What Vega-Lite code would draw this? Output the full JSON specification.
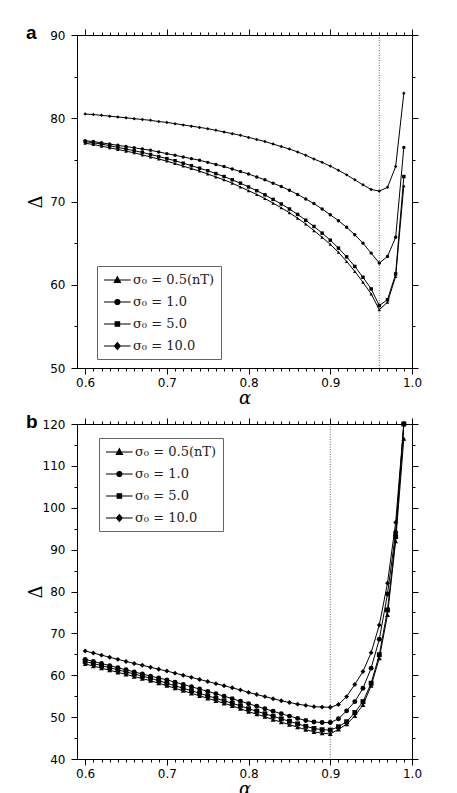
{
  "$schema": "https://vega.github.io/schema/vega-lite/v6.json",
  "background": "white",
  "padding": {"left": 25, "top": 23, "right": 5, "bottom": 0},
  "spacing": 4,
  "datasets": {
    "vl": [{"p": "a", "x": 0.96}, {"p": "b", "x": 0.9}],
    "pts": [
      {"p":"a","k":"10.0","x":0.60,"y":80.5},{"p":"a","k":"10.0","x":0.61,"y":80.45},{"p":"a","k":"10.0","x":0.62,"y":80.35},{"p":"a","k":"10.0","x":0.63,"y":80.25},{"p":"a","k":"10.0","x":0.64,"y":80.15},
      {"p":"a","k":"10.0","x":0.65,"y":80.05},{"p":"a","k":"10.0","x":0.66,"y":79.95},{"p":"a","k":"10.0","x":0.67,"y":79.85},{"p":"a","k":"10.0","x":0.68,"y":79.75},{"p":"a","k":"10.0","x":0.69,"y":79.6},
      {"p":"a","k":"10.0","x":0.70,"y":79.5},{"p":"a","k":"10.0","x":0.71,"y":79.35},{"p":"a","k":"10.0","x":0.72,"y":79.2},{"p":"a","k":"10.0","x":0.73,"y":79.05},{"p":"a","k":"10.0","x":0.74,"y":78.9},
      {"p":"a","k":"10.0","x":0.75,"y":78.75},{"p":"a","k":"10.0","x":0.76,"y":78.55},{"p":"a","k":"10.0","x":0.77,"y":78.35},{"p":"a","k":"10.0","x":0.78,"y":78.15},{"p":"a","k":"10.0","x":0.79,"y":77.95},
      {"p":"a","k":"10.0","x":0.80,"y":77.7},{"p":"a","k":"10.0","x":0.81,"y":77.45},{"p":"a","k":"10.0","x":0.82,"y":77.2},{"p":"a","k":"10.0","x":0.83,"y":76.9},{"p":"a","k":"10.0","x":0.84,"y":76.6},
      {"p":"a","k":"10.0","x":0.85,"y":76.3},{"p":"a","k":"10.0","x":0.86,"y":75.95},{"p":"a","k":"10.0","x":0.87,"y":75.55},{"p":"a","k":"10.0","x":0.88,"y":75.1},{"p":"a","k":"10.0","x":0.89,"y":74.7},
      {"p":"a","k":"10.0","x":0.90,"y":74.25},{"p":"a","k":"10.0","x":0.91,"y":73.75},{"p":"a","k":"10.0","x":0.92,"y":73.2},{"p":"a","k":"10.0","x":0.93,"y":72.6},{"p":"a","k":"10.0","x":0.94,"y":72.0},
      {"p":"a","k":"10.0","x":0.95,"y":71.45},{"p":"a","k":"10.0","x":0.96,"y":71.25},{"p":"a","k":"10.0","x":0.97,"y":71.7},{"p":"a","k":"10.0","x":0.98,"y":74.2},{"p":"a","k":"10.0","x":0.99,"y":83.0},

      {"p":"a","k":"1.0","x":0.60,"y":77.3},{"p":"a","k":"1.0","x":0.61,"y":77.2},{"p":"a","k":"1.0","x":0.62,"y":77.05},{"p":"a","k":"1.0","x":0.63,"y":76.9},{"p":"a","k":"1.0","x":0.64,"y":76.75},
      {"p":"a","k":"1.0","x":0.65,"y":76.6},{"p":"a","k":"1.0","x":0.66,"y":76.45},{"p":"a","k":"1.0","x":0.67,"y":76.3},{"p":"a","k":"1.0","x":0.68,"y":76.15},{"p":"a","k":"1.0","x":0.69,"y":75.95},
      {"p":"a","k":"1.0","x":0.70,"y":75.75},{"p":"a","k":"1.0","x":0.71,"y":75.55},{"p":"a","k":"1.0","x":0.72,"y":75.35},{"p":"a","k":"1.0","x":0.73,"y":75.15},{"p":"a","k":"1.0","x":0.74,"y":74.95},
      {"p":"a","k":"1.0","x":0.75,"y":74.7},{"p":"a","k":"1.0","x":0.76,"y":74.45},{"p":"a","k":"1.0","x":0.77,"y":74.2},{"p":"a","k":"1.0","x":0.78,"y":73.9},{"p":"a","k":"1.0","x":0.79,"y":73.6},
      {"p":"a","k":"1.0","x":0.80,"y":73.3},{"p":"a","k":"1.0","x":0.81,"y":72.95},{"p":"a","k":"1.0","x":0.82,"y":72.6},{"p":"a","k":"1.0","x":0.83,"y":72.2},{"p":"a","k":"1.0","x":0.84,"y":71.8},
      {"p":"a","k":"1.0","x":0.85,"y":71.35},{"p":"a","k":"1.0","x":0.86,"y":70.85},{"p":"a","k":"1.0","x":0.87,"y":70.3},{"p":"a","k":"1.0","x":0.88,"y":69.75},{"p":"a","k":"1.0","x":0.89,"y":69.1},
      {"p":"a","k":"1.0","x":0.90,"y":68.4},{"p":"a","k":"1.0","x":0.91,"y":67.7},{"p":"a","k":"1.0","x":0.92,"y":66.9},{"p":"a","k":"1.0","x":0.93,"y":66.0},{"p":"a","k":"1.0","x":0.94,"y":65.0},
      {"p":"a","k":"1.0","x":0.95,"y":63.8},{"p":"a","k":"1.0","x":0.96,"y":62.6},{"p":"a","k":"1.0","x":0.97,"y":63.4},{"p":"a","k":"1.0","x":0.98,"y":65.7},{"p":"a","k":"1.0","x":0.99,"y":76.5},

      {"p":"a","k":"5.0","x":0.60,"y":77.2},{"p":"a","k":"5.0","x":0.61,"y":77.05},{"p":"a","k":"5.0","x":0.62,"y":76.9},{"p":"a","k":"5.0","x":0.63,"y":76.7},{"p":"a","k":"5.0","x":0.64,"y":76.5},
      {"p":"a","k":"5.0","x":0.65,"y":76.3},{"p":"a","k":"5.0","x":0.66,"y":76.1},{"p":"a","k":"5.0","x":0.67,"y":75.9},{"p":"a","k":"5.0","x":0.68,"y":75.65},{"p":"a","k":"5.0","x":0.69,"y":75.4},
      {"p":"a","k":"5.0","x":0.70,"y":75.15},{"p":"a","k":"5.0","x":0.71,"y":74.9},{"p":"a","k":"5.0","x":0.72,"y":74.6},{"p":"a","k":"5.0","x":0.73,"y":74.3},{"p":"a","k":"5.0","x":0.74,"y":74.0},
      {"p":"a","k":"5.0","x":0.75,"y":73.7},{"p":"a","k":"5.0","x":0.76,"y":73.35},{"p":"a","k":"5.0","x":0.77,"y":73.0},{"p":"a","k":"5.0","x":0.78,"y":72.6},{"p":"a","k":"5.0","x":0.79,"y":72.2},
      {"p":"a","k":"5.0","x":0.80,"y":71.75},{"p":"a","k":"5.0","x":0.81,"y":71.3},{"p":"a","k":"5.0","x":0.82,"y":70.8},{"p":"a","k":"5.0","x":0.83,"y":70.25},{"p":"a","k":"5.0","x":0.84,"y":69.7},
      {"p":"a","k":"5.0","x":0.85,"y":69.1},{"p":"a","k":"5.0","x":0.86,"y":68.45},{"p":"a","k":"5.0","x":0.87,"y":67.75},{"p":"a","k":"5.0","x":0.88,"y":67.0},{"p":"a","k":"5.0","x":0.89,"y":66.2},
      {"p":"a","k":"5.0","x":0.90,"y":65.35},{"p":"a","k":"5.0","x":0.91,"y":64.4},{"p":"a","k":"5.0","x":0.92,"y":63.35},{"p":"a","k":"5.0","x":0.93,"y":62.2},{"p":"a","k":"5.0","x":0.94,"y":60.9},
      {"p":"a","k":"5.0","x":0.95,"y":59.5},{"p":"a","k":"5.0","x":0.96,"y":57.5},{"p":"a","k":"5.0","x":0.97,"y":58.2},{"p":"a","k":"5.0","x":0.98,"y":61.3},{"p":"a","k":"5.0","x":0.99,"y":73.0},

      {"p":"a","k":"0.5","x":0.60,"y":77.0},{"p":"a","k":"0.5","x":0.61,"y":76.85},{"p":"a","k":"0.5","x":0.62,"y":76.65},{"p":"a","k":"0.5","x":0.63,"y":76.45},{"p":"a","k":"0.5","x":0.64,"y":76.25},
      {"p":"a","k":"0.5","x":0.65,"y":76.05},{"p":"a","k":"0.5","x":0.66,"y":75.85},{"p":"a","k":"0.5","x":0.67,"y":75.6},{"p":"a","k":"0.5","x":0.68,"y":75.35},{"p":"a","k":"0.5","x":0.69,"y":75.1},
      {"p":"a","k":"0.5","x":0.70,"y":74.85},{"p":"a","k":"0.5","x":0.71,"y":74.55},{"p":"a","k":"0.5","x":0.72,"y":74.25},{"p":"a","k":"0.5","x":0.73,"y":73.95},{"p":"a","k":"0.5","x":0.74,"y":73.65},
      {"p":"a","k":"0.5","x":0.75,"y":73.3},{"p":"a","k":"0.5","x":0.76,"y":72.95},{"p":"a","k":"0.5","x":0.77,"y":72.6},{"p":"a","k":"0.5","x":0.78,"y":72.2},{"p":"a","k":"0.5","x":0.79,"y":71.75},
      {"p":"a","k":"0.5","x":0.80,"y":71.3},{"p":"a","k":"0.5","x":0.81,"y":70.85},{"p":"a","k":"0.5","x":0.82,"y":70.35},{"p":"a","k":"0.5","x":0.83,"y":69.8},{"p":"a","k":"0.5","x":0.84,"y":69.25},
      {"p":"a","k":"0.5","x":0.85,"y":68.65},{"p":"a","k":"0.5","x":0.86,"y":68.0},{"p":"a","k":"0.5","x":0.87,"y":67.3},{"p":"a","k":"0.5","x":0.88,"y":66.5},{"p":"a","k":"0.5","x":0.89,"y":65.7},
      {"p":"a","k":"0.5","x":0.90,"y":64.85},{"p":"a","k":"0.5","x":0.91,"y":63.9},{"p":"a","k":"0.5","x":0.92,"y":62.8},{"p":"a","k":"0.5","x":0.93,"y":61.6},{"p":"a","k":"0.5","x":0.94,"y":60.3},
      {"p":"a","k":"0.5","x":0.95,"y":58.9},{"p":"a","k":"0.5","x":0.96,"y":57.0},{"p":"a","k":"0.5","x":0.97,"y":57.9},{"p":"a","k":"0.5","x":0.98,"y":61.0},{"p":"a","k":"0.5","x":0.99,"y":71.9},

      {"p":"b","k":"10.0","x":0.60,"y":65.8},{"p":"b","k":"10.0","x":0.61,"y":65.3},{"p":"b","k":"10.0","x":0.62,"y":64.8},{"p":"b","k":"10.0","x":0.63,"y":64.3},{"p":"b","k":"10.0","x":0.64,"y":63.8},
      {"p":"b","k":"10.0","x":0.65,"y":63.3},{"p":"b","k":"10.0","x":0.66,"y":62.8},{"p":"b","k":"10.0","x":0.67,"y":62.4},{"p":"b","k":"10.0","x":0.68,"y":61.9},{"p":"b","k":"10.0","x":0.69,"y":61.45},
      {"p":"b","k":"10.0","x":0.70,"y":61.0},{"p":"b","k":"10.0","x":0.71,"y":60.5},{"p":"b","k":"10.0","x":0.72,"y":60.0},{"p":"b","k":"10.0","x":0.73,"y":59.5},{"p":"b","k":"10.0","x":0.74,"y":59.0},
      {"p":"b","k":"10.0","x":0.75,"y":58.5},{"p":"b","k":"10.0","x":0.76,"y":58.0},{"p":"b","k":"10.0","x":0.77,"y":57.5},{"p":"b","k":"10.0","x":0.78,"y":57.0},{"p":"b","k":"10.0","x":0.79,"y":56.5},
      {"p":"b","k":"10.0","x":0.80,"y":55.9},{"p":"b","k":"10.0","x":0.81,"y":55.4},{"p":"b","k":"10.0","x":0.82,"y":54.9},{"p":"b","k":"10.0","x":0.83,"y":54.4},{"p":"b","k":"10.0","x":0.84,"y":53.9},
      {"p":"b","k":"10.0","x":0.85,"y":53.5},{"p":"b","k":"10.0","x":0.86,"y":53.1},{"p":"b","k":"10.0","x":0.87,"y":52.8},{"p":"b","k":"10.0","x":0.88,"y":52.5},{"p":"b","k":"10.0","x":0.89,"y":52.4},
      {"p":"b","k":"10.0","x":0.90,"y":52.35},{"p":"b","k":"10.0","x":0.91,"y":53.0},{"p":"b","k":"10.0","x":0.92,"y":54.9},{"p":"b","k":"10.0","x":0.93,"y":57.8},{"p":"b","k":"10.0","x":0.94,"y":60.9},
      {"p":"b","k":"10.0","x":0.95,"y":65.4},{"p":"b","k":"10.0","x":0.96,"y":72.0},{"p":"b","k":"10.0","x":0.97,"y":82.0},{"p":"b","k":"10.0","x":0.98,"y":96.5},{"p":"b","k":"10.0","x":0.99,"y":120},

      {"p":"b","k":"1.0","x":0.60,"y":63.8},{"p":"b","k":"1.0","x":0.61,"y":63.3},{"p":"b","k":"1.0","x":0.62,"y":62.8},{"p":"b","k":"1.0","x":0.63,"y":62.3},{"p":"b","k":"1.0","x":0.64,"y":61.8},
      {"p":"b","k":"1.0","x":0.65,"y":61.3},{"p":"b","k":"1.0","x":0.66,"y":60.8},{"p":"b","k":"1.0","x":0.67,"y":60.3},{"p":"b","k":"1.0","x":0.68,"y":59.8},{"p":"b","k":"1.0","x":0.69,"y":59.35},
      {"p":"b","k":"1.0","x":0.70,"y":58.9},{"p":"b","k":"1.0","x":0.71,"y":58.35},{"p":"b","k":"1.0","x":0.72,"y":57.8},{"p":"b","k":"1.0","x":0.73,"y":57.25},{"p":"b","k":"1.0","x":0.74,"y":56.7},
      {"p":"b","k":"1.0","x":0.75,"y":56.15},{"p":"b","k":"1.0","x":0.76,"y":55.6},{"p":"b","k":"1.0","x":0.77,"y":55.0},{"p":"b","k":"1.0","x":0.78,"y":54.4},{"p":"b","k":"1.0","x":0.79,"y":53.8},
      {"p":"b","k":"1.0","x":0.80,"y":53.2},{"p":"b","k":"1.0","x":0.81,"y":52.6},{"p":"b","k":"1.0","x":0.82,"y":52.0},{"p":"b","k":"1.0","x":0.83,"y":51.4},{"p":"b","k":"1.0","x":0.84,"y":50.8},
      {"p":"b","k":"1.0","x":0.85,"y":50.25},{"p":"b","k":"1.0","x":0.86,"y":49.7},{"p":"b","k":"1.0","x":0.87,"y":49.2},{"p":"b","k":"1.0","x":0.88,"y":48.85},{"p":"b","k":"1.0","x":0.89,"y":48.7},
      {"p":"b","k":"1.0","x":0.90,"y":48.7},{"p":"b","k":"1.0","x":0.91,"y":49.6},{"p":"b","k":"1.0","x":0.92,"y":51.5},{"p":"b","k":"1.0","x":0.93,"y":53.7},{"p":"b","k":"1.0","x":0.94,"y":56.9},
      {"p":"b","k":"1.0","x":0.95,"y":61.7},{"p":"b","k":"1.0","x":0.96,"y":68.6},{"p":"b","k":"1.0","x":0.97,"y":79.4},{"p":"b","k":"1.0","x":0.98,"y":94.1},{"p":"b","k":"1.0","x":0.99,"y":120},

      {"p":"b","k":"5.0","x":0.60,"y":63.3},{"p":"b","k":"5.0","x":0.61,"y":62.8},{"p":"b","k":"5.0","x":0.62,"y":62.3},{"p":"b","k":"5.0","x":0.63,"y":61.8},{"p":"b","k":"5.0","x":0.64,"y":61.3},
      {"p":"b","k":"5.0","x":0.65,"y":60.8},{"p":"b","k":"5.0","x":0.66,"y":60.3},{"p":"b","k":"5.0","x":0.67,"y":59.8},{"p":"b","k":"5.0","x":0.68,"y":59.3},{"p":"b","k":"5.0","x":0.69,"y":58.7},
      {"p":"b","k":"5.0","x":0.70,"y":58.1},{"p":"b","k":"5.0","x":0.71,"y":57.5},{"p":"b","k":"5.0","x":0.72,"y":56.9},{"p":"b","k":"5.0","x":0.73,"y":56.3},{"p":"b","k":"5.0","x":0.74,"y":55.7},
      {"p":"b","k":"5.0","x":0.75,"y":55.1},{"p":"b","k":"5.0","x":0.76,"y":54.5},{"p":"b","k":"5.0","x":0.77,"y":53.9},{"p":"b","k":"5.0","x":0.78,"y":53.3},{"p":"b","k":"5.0","x":0.79,"y":52.7},
      {"p":"b","k":"5.0","x":0.80,"y":52.0},{"p":"b","k":"5.0","x":0.81,"y":51.4},{"p":"b","k":"5.0","x":0.82,"y":50.8},{"p":"b","k":"5.0","x":0.83,"y":50.2},{"p":"b","k":"5.0","x":0.84,"y":49.6},
      {"p":"b","k":"5.0","x":0.85,"y":49.0},{"p":"b","k":"5.0","x":0.86,"y":48.4},{"p":"b","k":"5.0","x":0.87,"y":47.8},{"p":"b","k":"5.0","x":0.88,"y":47.3},{"p":"b","k":"5.0","x":0.89,"y":47.0},
      {"p":"b","k":"5.0","x":0.90,"y":46.9},{"p":"b","k":"5.0","x":0.91,"y":47.7},{"p":"b","k":"5.0","x":0.92,"y":48.9},{"p":"b","k":"5.0","x":0.93,"y":51.1},{"p":"b","k":"5.0","x":0.94,"y":53.7},
      {"p":"b","k":"5.0","x":0.95,"y":58.1},{"p":"b","k":"5.0","x":0.96,"y":64.9},{"p":"b","k":"5.0","x":0.97,"y":75.6},{"p":"b","k":"5.0","x":0.98,"y":93.1},{"p":"b","k":"5.0","x":0.99,"y":120},

      {"p":"b","k":"0.5","x":0.60,"y":62.7},{"p":"b","k":"0.5","x":0.61,"y":62.2},{"p":"b","k":"0.5","x":0.62,"y":61.7},{"p":"b","k":"0.5","x":0.63,"y":61.2},{"p":"b","k":"0.5","x":0.64,"y":60.7},
      {"p":"b","k":"0.5","x":0.65,"y":60.2},{"p":"b","k":"0.5","x":0.66,"y":59.7},{"p":"b","k":"0.5","x":0.67,"y":59.2},{"p":"b","k":"0.5","x":0.68,"y":58.7},{"p":"b","k":"0.5","x":0.69,"y":58.1},
      {"p":"b","k":"0.5","x":0.70,"y":57.5},{"p":"b","k":"0.5","x":0.71,"y":56.9},{"p":"b","k":"0.5","x":0.72,"y":56.3},{"p":"b","k":"0.5","x":0.73,"y":55.7},{"p":"b","k":"0.5","x":0.74,"y":55.1},
      {"p":"b","k":"0.5","x":0.75,"y":54.5},{"p":"b","k":"0.5","x":0.76,"y":53.9},{"p":"b","k":"0.5","x":0.77,"y":53.3},{"p":"b","k":"0.5","x":0.78,"y":52.7},{"p":"b","k":"0.5","x":0.79,"y":52.0},
      {"p":"b","k":"0.5","x":0.80,"y":51.3},{"p":"b","k":"0.5","x":0.81,"y":50.7},{"p":"b","k":"0.5","x":0.82,"y":50.1},{"p":"b","k":"0.5","x":0.83,"y":49.4},{"p":"b","k":"0.5","x":0.84,"y":48.8},
      {"p":"b","k":"0.5","x":0.85,"y":48.2},{"p":"b","k":"0.5","x":0.86,"y":47.6},{"p":"b","k":"0.5","x":0.87,"y":47.0},{"p":"b","k":"0.5","x":0.88,"y":46.5},{"p":"b","k":"0.5","x":0.89,"y":46.15},
      {"p":"b","k":"0.5","x":0.90,"y":46.0},{"p":"b","k":"0.5","x":0.91,"y":47.1},{"p":"b","k":"0.5","x":0.92,"y":48.3},{"p":"b","k":"0.5","x":0.93,"y":50.3},{"p":"b","k":"0.5","x":0.94,"y":52.9},
      {"p":"b","k":"0.5","x":0.95,"y":57.5},{"p":"b","k":"0.5","x":0.96,"y":64.1},{"p":"b","k":"0.5","x":0.97,"y":74.4},{"p":"b","k":"0.5","x":0.98,"y":92.0},{"p":"b","k":"0.5","x":0.99,"y":116.5}
    ]
  },
  "resolve": {
    "scale": {"x": "independent", "y": "independent", "shape": "independent"},
    "legend": {"shape": "independent"}
  },
  "config": {
    "view": {"stroke": "black", "strokeWidth": 1},
    "axis": {
      "grid": false,
      "domainColor": "black",
      "domainWidth": 1,
      "tickColor": "black",
      "tickWidth": 1,
      "labelColor": "black",
      "labelFont": "DejaVu Sans",
      "labelFontSize": 12,
      "labelOverlap": false,
      "labelFlush": false,
      "titleColor": "black",
      "titleFont": "DejaVu Serif",
      "titleFontWeight": "normal",
      "titleFontSize": 18
    },
    "title": {
      "anchor": "start",
      "frame": "bounds",
      "font": "Liberation Sans",
      "fontSize": 19,
      "fontWeight": "bold",
      "color": "black",
      "offset": 0,
      "dx": -1,
      "dy": 18
    },
    "legend": {
      "title": null,
      "orient": "none",
      "symbolSize": 196,
      "symbolOpacity": 1,
      "symbolStrokeWidth": 1.2,
      "labelFont": "DejaVu Serif",
      "labelFontSize": 13,
      "labelColor": "#222",
      "labelOffset": 14,
      "rowPadding": 7,
      "padding": 6,
      "strokeColor": "#666",
      "fillColor": "white"
    }
  },
  "vconcat": [
    {
      "width": 335,
      "height": 333,
      "title": {"text": "a"},
      "resolve": {
        "axis": {"x": "independent", "y": "independent"},
        "scale": {"shape": "independent"},
        "legend": {"shape": "independent"}
      },
      "layer": [
        {
          "data": {"name": "vl"},
          "transform": [{"filter": "datum.p == 'a'"}],
          "mark": {"type": "rule", "color": "#444", "strokeWidth": 0.8, "strokeDash": [1, 1.5]},
          "encoding": {
            "x": {"field": "x", "type": "quantitative", "scale": {"domain": [0.59, 1.0], "nice": false, "zero": false}, "axis": null}
          }
        },
        {
          "data": {"name": "pts"},
          "transform": [{"filter": "datum.p == 'a'"}],
          "mark": {"type": "line", "color": "black", "strokeWidth": 1},
          "encoding": {
            "x": {
              "field": "x", "type": "quantitative",
              "scale": {"domain": [0.59, 1.0], "nice": false, "zero": false},
              "axis": {
                "orient": "bottom",
                "values": [0.6,0.61,0.62,0.63,0.64,0.65,0.66,0.67,0.68,0.69,0.7,0.71,0.72,0.73,0.74,0.75,0.76,0.77,0.78,0.79,0.8,0.81,0.82,0.83,0.84,0.85,0.86,0.87,0.88,0.89,0.9,0.91,0.92,0.93,0.94,0.95,0.96,0.97,0.98,0.99,1.0],
                "labelExpr": "round(datum.value*100) % 10 == 0 ? format(datum.value, '.1f') : ''",
                "tickSize": {"condition": {"test": "round(datum.value*100) % 10 == 0", "value": 6}, "value": 3},
                "labelPadding": 3,
                "title": "α",
                "titleFontStyle": "italic",
                "titlePadding": 1
              }
            },
            "y": {
              "field": "y", "type": "quantitative",
              "scale": {"domain": [50, 90], "nice": false, "zero": false},
              "axis": {
                "orient": "left",
                "values": [50,55,60,65,70,75,80,85,90],
                "labelExpr": "datum.value % 10 == 0 ? datum.label : ''",
                "tickSize": {"condition": {"test": "datum.value % 10 == 0", "value": 6}, "value": 3},
                "labelPadding": 6,
                "minExtent": 30,
                "maxExtent": 30,
                "title": "Δ",
                "titlePadding": 2
              }
            },
            "detail": {"field": "k"}
          }
        },
        {
          "data": {"name": "pts"},
          "transform": [{"filter": "datum.p == 'a'"}],
          "mark": {"type": "point", "filled": true, "color": "black", "size": 12, "opacity": 1},
          "encoding": {
            "x": {
              "field": "x", "type": "quantitative",
              "scale": {"domain": [0.59, 1.0], "nice": false, "zero": false},
              "axis": {
                "orient": "top",
                "values": [0.6,0.61,0.62,0.63,0.64,0.65,0.66,0.67,0.68,0.69,0.7,0.71,0.72,0.73,0.74,0.75,0.76,0.77,0.78,0.79,0.8,0.81,0.82,0.83,0.84,0.85,0.86,0.87,0.88,0.89,0.9,0.91,0.92,0.93,0.94,0.95,0.96,0.97,0.98,0.99,1.0],
                "labels": false,
                "title": null,
                "tickSize": {"condition": {"test": "round(datum.value*100) % 10 == 0", "value": 6}, "value": 3}
              }
            },
            "y": {
              "field": "y", "type": "quantitative",
              "scale": {"domain": [50, 90], "nice": false, "zero": false},
              "axis": {
                "orient": "right",
                "values": [50,55,60,65,70,75,80,85,90],
                "labels": false,
                "title": null,
                "tickSize": {"condition": {"test": "datum.value % 10 == 0", "value": 6}, "value": 3}
              }
            },
            "shape": {
              "field": "k", "type": "nominal",
              "scale": {"domain": ["0.5", "1.0", "5.0", "10.0"], "range": ["triangle-up", "circle", "square", "diamond"]},
              "legend": null
            }
          }
        },
        {
          "data": {"name": "pts"},
          "transform": [{"filter": "datum.p == 'a' && datum.x == 0.6"}],
          "mark": {"type": "point", "filled": false, "fill": "black", "stroke": "black", "strokeWidth": 1.2, "size": 0, "opacity": 1},
          "encoding": {
            "x": {"field": "x", "type": "quantitative", "scale": {"domain": [0.59, 1.0], "nice": false, "zero": false}, "axis": null},
            "y": {"field": "y", "type": "quantitative", "scale": {"domain": [50, 90], "nice": false, "zero": false}, "axis": null},
            "shape": {
              "field": "k", "type": "nominal",
              "scale": {
                "domain": ["0.5", "1.0", "5.0", "10.0"],
                "range": [
                  "M-1,0H2.81M0.475,0.36L0.91,-0.465L1.345,0.36Z",
                  "M-1,0H2.81M1.27,0A0.36,0.36,0,1,1,0.55,0A0.36,0.36,0,1,1,1.27,0Z",
                  "M-1,0H2.81M0.595,-0.315H1.225V0.315H0.595Z",
                  "M-1,0H2.81M0.91,-0.48L1.315,0L0.91,0.48L0.505,0Z"
                ]
              },
              "legend": {
                "legendX": 20,
                "legendY": 231,
                "labelExpr": "'σ₀ = ' + datum.label + (datum.label == '0.5' ? '(nT)' : '')"
              }
            }
          }
        }
      ]
    },
    {
      "width": 335,
      "height": 335,
      "title": {"text": "b"},
      "resolve": {
        "axis": {"x": "independent", "y": "independent"},
        "scale": {"shape": "independent"},
        "legend": {"shape": "independent"}
      },
      "layer": [
        {
          "data": {"name": "vl"},
          "transform": [{"filter": "datum.p == 'b'"}],
          "mark": {"type": "rule", "color": "#444", "strokeWidth": 0.8, "strokeDash": [1, 1.5]},
          "encoding": {
            "x": {"field": "x", "type": "quantitative", "scale": {"domain": [0.59, 1.0], "nice": false, "zero": false}, "axis": null}
          }
        },
        {
          "data": {"name": "pts"},
          "transform": [{"filter": "datum.p == 'b'"}],
          "mark": {"type": "line", "color": "black", "strokeWidth": 1},
          "encoding": {
            "x": {
              "field": "x", "type": "quantitative",
              "scale": {"domain": [0.59, 1.0], "nice": false, "zero": false},
              "axis": {
                "orient": "bottom",
                "values": [0.6,0.61,0.62,0.63,0.64,0.65,0.66,0.67,0.68,0.69,0.7,0.71,0.72,0.73,0.74,0.75,0.76,0.77,0.78,0.79,0.8,0.81,0.82,0.83,0.84,0.85,0.86,0.87,0.88,0.89,0.9,0.91,0.92,0.93,0.94,0.95,0.96,0.97,0.98,0.99,1.0],
                "labelExpr": "round(datum.value*100) % 10 == 0 ? format(datum.value, '.1f') : ''",
                "tickSize": {"condition": {"test": "round(datum.value*100) % 10 == 0", "value": 6}, "value": 3},
                "labelPadding": 3,
                "title": "α",
                "titleFontStyle": "italic",
                "titlePadding": 1
              }
            },
            "y": {
              "field": "y", "type": "quantitative",
              "scale": {"domain": [40, 120], "nice": false, "zero": false},
              "axis": {
                "orient": "left",
                "values": [40,45,50,55,60,65,70,75,80,85,90,95,100,105,110,115,120],
                "labelExpr": "datum.value % 10 == 0 ? datum.label : ''",
                "tickSize": {"condition": {"test": "datum.value % 10 == 0", "value": 6}, "value": 3},
                "labelPadding": 6,
                "minExtent": 30,
                "maxExtent": 30,
                "title": "Δ",
                "titlePadding": 2
              }
            },
            "detail": {"field": "k"}
          }
        },
        {
          "data": {"name": "pts"},
          "transform": [{"filter": "datum.p == 'b'"}],
          "mark": {"type": "point", "filled": true, "color": "black", "size": 24, "opacity": 1},
          "encoding": {
            "x": {
              "field": "x", "type": "quantitative",
              "scale": {"domain": [0.59, 1.0], "nice": false, "zero": false},
              "axis": {
                "orient": "top",
                "values": [0.6,0.61,0.62,0.63,0.64,0.65,0.66,0.67,0.68,0.69,0.7,0.71,0.72,0.73,0.74,0.75,0.76,0.77,0.78,0.79,0.8,0.81,0.82,0.83,0.84,0.85,0.86,0.87,0.88,0.89,0.9,0.91,0.92,0.93,0.94,0.95,0.96,0.97,0.98,0.99,1.0],
                "labels": false,
                "title": null,
                "tickSize": {"condition": {"test": "round(datum.value*100) % 10 == 0", "value": 6}, "value": 3}
              }
            },
            "y": {
              "field": "y", "type": "quantitative",
              "scale": {"domain": [40, 120], "nice": false, "zero": false},
              "axis": {
                "orient": "right",
                "values": [40,45,50,55,60,65,70,75,80,85,90,95,100,105,110,115,120],
                "labels": false,
                "title": null,
                "tickSize": {"condition": {"test": "datum.value % 10 == 0", "value": 6}, "value": 3}
              }
            },
            "shape": {
              "field": "k", "type": "nominal",
              "scale": {"domain": ["0.5", "1.0", "5.0", "10.0"], "range": ["triangle-up", "circle", "square", "diamond"]},
              "legend": null
            }
          }
        },
        {
          "data": {"name": "pts"},
          "transform": [{"filter": "datum.p == 'b' && datum.x == 0.6"}],
          "mark": {"type": "point", "filled": false, "fill": "black", "stroke": "black", "strokeWidth": 1.2, "size": 0, "opacity": 1},
          "encoding": {
            "x": {"field": "x", "type": "quantitative", "scale": {"domain": [0.59, 1.0], "nice": false, "zero": false}, "axis": null},
            "y": {"field": "y", "type": "quantitative", "scale": {"domain": [40, 120], "nice": false, "zero": false}, "axis": null},
            "shape": {
              "field": "k", "type": "nominal",
              "scale": {
                "domain": ["0.5", "1.0", "5.0", "10.0"],
                "range": [
                  "M-1,0H2.81M0.475,0.36L0.91,-0.465L1.345,0.36Z",
                  "M-1,0H2.81M1.27,0A0.36,0.36,0,1,1,0.55,0A0.36,0.36,0,1,1,1.27,0Z",
                  "M-1,0H2.81M0.595,-0.315H1.225V0.315H0.595Z",
                  "M-1,0H2.81M0.91,-0.48L1.315,0L0.91,0.48L0.505,0Z"
                ]
              },
              "legend": {
                "legendX": 22,
                "legendY": 14,
                "labelExpr": "'σ₀ = ' + datum.label + (datum.label == '0.5' ? '(nT)' : '')"
              }
            }
          }
        }
      ]
    }
  ]
}
